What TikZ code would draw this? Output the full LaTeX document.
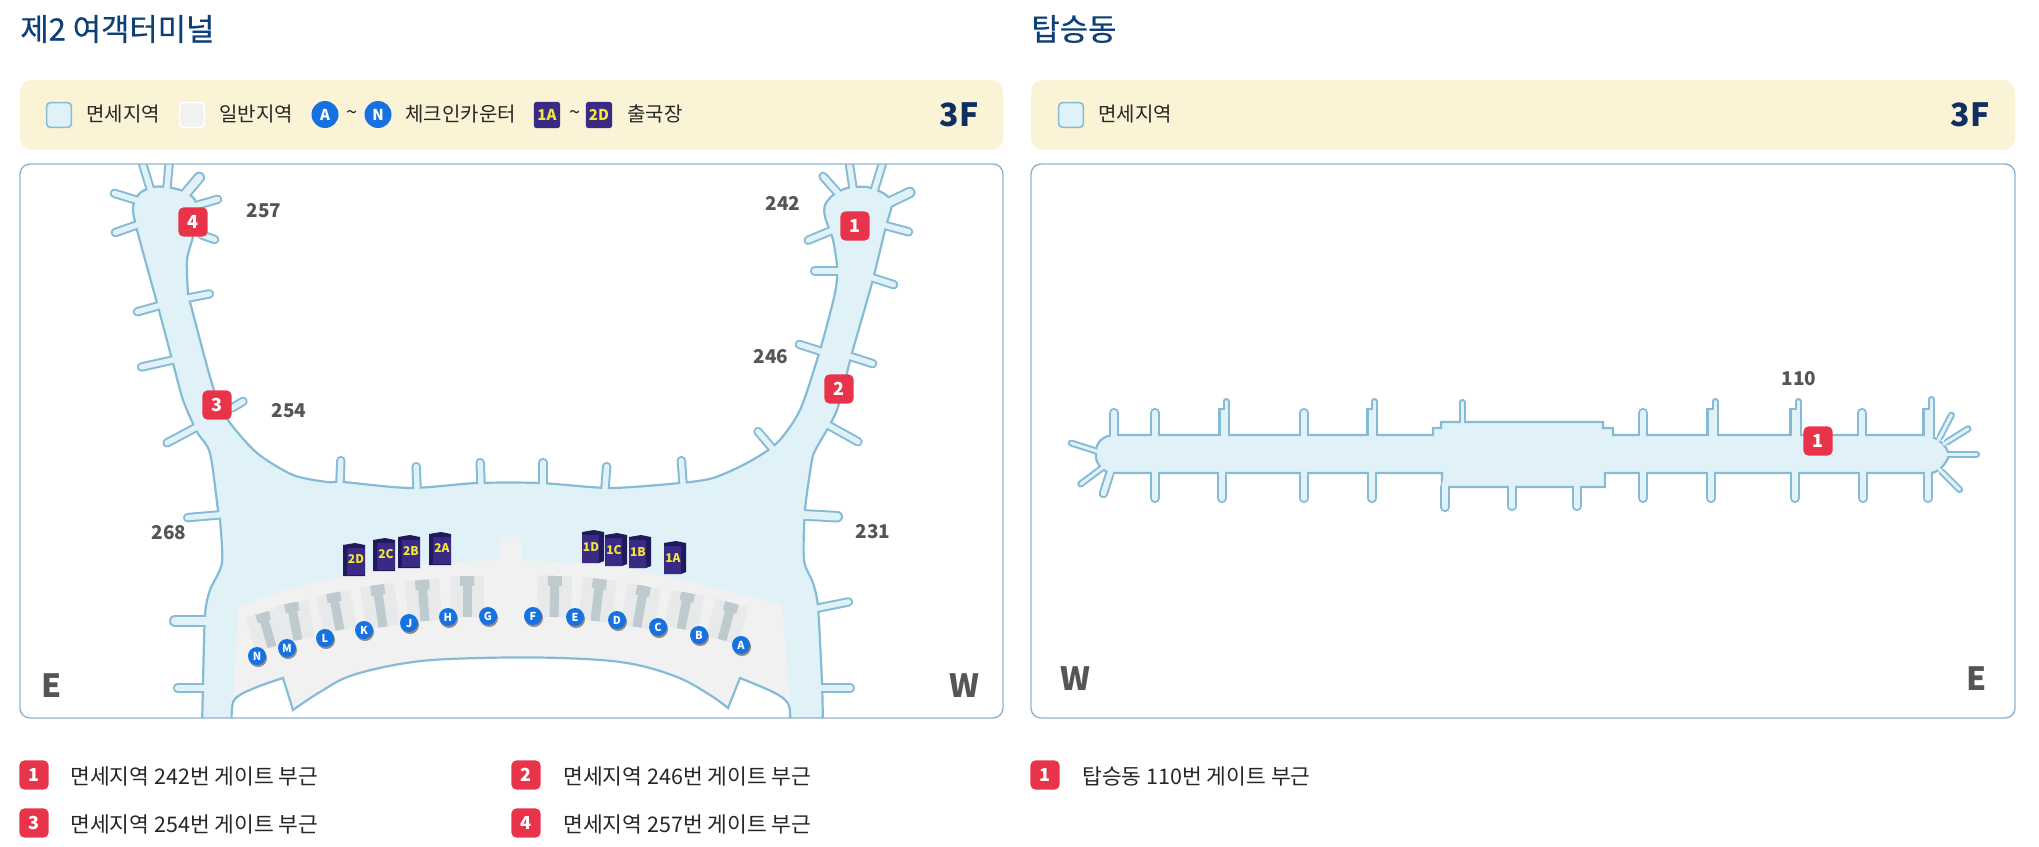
\documentclass[tikz,border=0pt]{standalone}
\usepackage{fontspec}
\setmainfont{Noto Sans CJK KR}
\usetikzlibrary{calc}
\definecolor{pale}{HTML}{E0F2F8}
\definecolor{wall}{HTML}{86BBD6}
\definecolor{frame}{HTML}{8FB3CF}
\definecolor{cream}{HTML}{FBF3D5}
\definecolor{land}{HTML}{F1F1F1}
\definecolor{band}{HTML}{E8E9EA}
\definecolor{desk}{HTML}{BFCACF}
\definecolor{navy}{HTML}{0E3F77}
\definecolor{dnavy}{HTML}{0E2F5F}
\definecolor{redb}{HTML}{E8344A}
\definecolor{blu}{HTML}{1572E0}
\definecolor{purp}{HTML}{3B2A85}
\definecolor{dpurp}{HTML}{1F1A5C}
\definecolor{yell}{HTML}{F0EA35}
\definecolor{gtxt}{HTML}{555555}
% gate stubs of the terminal, root then tip
\newcommand\gatesT{136/200/110/192, 150/188/140/155, 167/187/170/155, 198/205/222/198,
	202/235/219/241, 137/225/111/234, 188/298/214/293, 158/306/133/313, 173/360/137/368,
	232/408/247/399, 195/428/163/445, 340/482/341/456, 417/488/416/462, 481/483/480/458,
	218/515/183/518, 203/688/173/688, 543/483/543/458, 605/488/607/462, 683/483/681/456,
	772/448/755/428, 828/425/862/444, 852/357/877/365, 820/351/795/343, 873/278/898/286,
	837/271/810/271, 887/226/913/233, 828/232/804/242, 837/192/820/173, 853/188/848/155,
	875/188/885/155, 822/688/855/688, 818/608/853/601}
\newcommand\gatesW{205/621/169/621, 805/515/843/517, 890/202/915/190, 187/192/203/173}
% gate stubs of the concourse
\newcommand\gatesC{1114/435/1114/408, 1155/435/1155/408, 1304/435/1304/408, 1643/435/1643/408, 1862/435/1862/408,
	1155/473/1155/503, 1222/473/1222/503, 1304/473/1304/503, 1372/473/1372/503, 1643/473/1643/503,
	1711/473/1711/503, 1795/473/1795/503, 1863/473/1863/503, 1928/473/1928/503, 1577/487/1577/511,
	1512/487/1512/511, 1445/487/1445/512, 1110/473/1102/498}
\newcommand\gatesN{1226/435/1226/398, 1374/435/1374/398, 1715/435/1715/398, 1798/435/1798/398, 1931/435/1931/396,
	1462/425/1462/399, 1096/451/1068/442, 1102/468/1078/486, 1940/437/1953/412, 1947/442/1971/427,
	1950/454/1980/454, 1942/472/1962/492}
\newcommand\shoulders{1224, 1372, 1712, 1795, 1928}
\begin{document}
\begin{tikzpicture}[x=0.5pt,y=-0.5pt, font=\fontsize{10}{12}\selectfont,
	title/.style={font=\fontsize{15.4}{17}\selectfont\addfontfeature{FakeBold=0.5},text=navy,anchor=west,inner sep=0},
	legd/.style={text=black!85,anchor=west,inner sep=0},
	list/.style={legd,font=\fontsize{10.75}{12}\selectfont},
	flor/.style={font=\fontsize{16}{18}\bfseries\selectfont,text=dnavy,inner sep=0},
	comp/.style={font=\fontsize{16}{18}\bfseries\selectfont,text=gtxt,inner sep=0},
	gatn/.style={font=\fontsize{9.5}{12}\bfseries\selectfont,text=gtxt,inner sep=0},
	badg/.style={fill=redb,rounded corners=2.5pt,minimum size=14.6pt,inner sep=0,text=white,font=\fontsize{9}{10}\bfseries\selectfont},
	swat/.style={draw=wall,line width=0.8pt,fill=pale,rounded corners=2pt,minimum size=12.4pt,inner sep=0},
	cntr/.style={circle,fill=blu,minimum size=9pt,inner sep=0,text=white,font=\fontsize{5.5}{6}\bfseries\selectfont},
	cnbg/.style={circle,fill=black!45,minimum size=9pt,inner sep=0},
	bcnt/.style={circle,fill=blu,minimum size=13.5pt,inner sep=0,text=white,font=\fontsize{7.5}{9}\bfseries\selectfont},
	bdsk/.style={fill=purp,rounded corners=1.5pt,minimum size=13.2pt,inner sep=0,text=yell,font=\fontsize{7.5}{9}\bfseries\selectfont},
	dlab/.style={text=yell,inner sep=0,font=\fontsize{6}{7}\bfseries\selectfont},
	swal/.style={draw=wall,line width=4.7pt,line cap=round,shorten >=2.3pt},
	sflr/.style={draw=pale,line width=2.7pt,line cap=round,shorten >=2.3pt,shorten <=-2pt}]
	\useasboundingbox (0,0) rectangle (2039,846);
	% headings
	\node[title] (t1) at (20,29) {제2 여객터미널};
	\node[title] (t2) at (1031,29) {탑승동};
	\fill[cream,rounded corners=6pt] (20,80) rectangle (1003,150);
	\fill[cream,rounded corners=6pt] (1031,80) rectangle (2015,150);
	\node[swat] (s1) at (59,115) {};
	\node[legd] (l1) at (86,114) {면세지역};
	\node[swat,draw=white,fill=land] (s2) at (192,115) {};
	\node[legd] (l2) at (219,114) {일반지역};
	\node[cnbg] (bg) at (325.5,116.5) {};
	\node[bcnt] (ba) at (325,114.5) {A};
	\node[legd] (t3) at (346,115) {\textasciitilde};
	\node[bcnt] (bn) at (378,114.5) {N};
	\node[legd] (l3) at (405,114) {체크인카운터};
	\node[bdsk] (b1) at (547,115) {1A};
	\node[legd] (t4) at (569,115) {\textasciitilde};
	\node[bdsk] (b2) at (599,115) {2D};
	\node[legd] (l4) at (627,114) {출국장};
	\node[flor] (f1) at (959,115) {3F};
	\node[swat] (s3) at (1071,115) {};
	\node[legd] (l5) at (1098,114) {면세지역};
	\node[flor] (f2) at (1970,115) {3F};
	% terminal map
	\begin{scope}
	\clip[rounded corners=5pt] (20,164) rectangle (1003,718);
	\foreach \ax/\ay/\bx/\by in \gatesT {\draw[swal] (\ax,\ay) -- (\bx,\by);}
	\foreach \ax/\ay/\bx/\by in \gatesW {\draw[swal,line width=5.8pt,shorten >=2.9pt] (\ax,\ay) -- (\bx,\by);}
	\filldraw[draw=wall,line width=1.1pt,fill=pale] plot[smooth,tension=0.45] coordinates {(202,730) (203,683) (205,615) (210,590) (222,563) (220,520) (218,510) (210,453) (197,432) (183,400) (173,363) (157,303) (137,230) (133,207) (140,193) (153,187) (167,187) (183,191) (195,200) (196,222) (193,237) (187,260) (188,293) (190,302) (213,387) (228,420) (257,453) (293,475) (327,482) (343,482) (410,488) (477,483) (540,483) (610,488) (680,483) (713,478) (747,463) (777,443) (800,410) (820,350) (835,293) (837,267) (833,240) (825,217) (825,205) (833,195) (847,188) (867,187) (883,193) (892,203) (885,230) (872,283) (852,353) (837,410) (817,447) (812,460) (805,510) (804,560) (813,583) (818,607) (822,683) (823,730)} -- cycle;
	\foreach \ax/\ay/\bx/\by in \gatesT {\draw[sflr] (\ax,\ay) -- (\bx,\by);}
	\foreach \ax/\ay/\bx/\by in \gatesW {\draw[sflr,line width=3.8pt,shorten >=2.9pt] (\ax,\ay) -- (\bx,\by);}
	% landside hall
	\fill[white] (232,705) -- (240,650) -- (785,650) -- (790,705) -- (790,730) -- (232,730) -- cycle;
	\fill[land] plot[smooth,tension=0.6] coordinates {(238,607) (280,592) (347,575) (413,565) (500,560)} -- (500,537) -- (521,537) -- plot[smooth,tension=0.6] coordinates {(521,561) (560,562) (627,568) (693,583) (745,595) (782,605)} -- plot[smooth,tension=0.6] coordinates {(790,703) (773,692) (740,678)} -- plot[smooth,tension=0.6] coordinates {(728,708) (710,695) (677,677) (627,663) (560,658) (480,658) (413,662) (353,675) (320,692) (293,710)} -- plot[smooth,tension=0.6] coordinates {(283,678) (257,687) (237,697) (233,705)} -- cycle;
	\draw[wall,line width=1.1pt] plot[smooth,tension=0.6] coordinates {(232,730) (232,708) (237,697) (257,687) (283,678)} -- plot[smooth,tension=0.6] coordinates {(293,710) (320,692) (353,675) (413,662) (480,658) (560,658) (627,663) (677,677) (710,695) (728,708)} -- plot[smooth,tension=0.6] coordinates {(740,678) (773,692) (787,702) (790,713) (790,730)};
	\foreach \ax/\ay/\bx/\by in {262/613/272/647, 291/603/298/640, 333/593/340/630, 377/585/383/627, 422/580/425/621, 467/576/467/617, 555/576/554/617, 600/579/595/621, 644/586/637/627, 688/593/681/629, 732/603/722/640} {
		\draw[band,line width=17pt] (\ax,\ay) -- (\bx,\by);
		\draw[desk,line width=4.5pt] (\ax,\ay) -- (\bx,\by);
		\draw[desk,line width=7pt] (\ax,\ay) -- ($(\ax,\ay)!0.24!(\bx,\by)$);
	}
	\foreach \n/\cx/\cy in {N/257/656, M/287/648, L/325/638, K/364/630, J/409/623, H/448/617, G/488/616, F/533/616, E/575/617, D/617/620, C/658/627, B/699/635, A/741/645} {
		\node[cnbg] (q\n) at (\cx+1,\cy+2) {};
		\node[cntr] (c\n) at (\cx,\cy) {\n};
	}
	% departure gates
	\foreach \n/\lx/\ty/\lb in {a/343/543/2D, b/373/538/2C, c/398/535/2B, d/429/532/2A} {
		\fill[dpurp] (\lx,\ty+2) -- ++(12,-2) -- ++(10,2) -- ++(0,31) -- ++(-22,0) -- cycle;
		\fill[purp] (\lx+4,\ty+5) rectangle (\lx+22,\ty+32);
		\node[dlab] (d\n) at (\lx+13,\ty+16) {\lb};
	}
	\foreach \n/\lx/\ty/\lb in {e/582/530/1D, f/605/533/1C, g/629/535/1B, h/664/541/1A} {
		\fill[dpurp] (\lx,\ty+2) -- ++(12,-2) -- ++(10,2) -- ++(0,29) -- ++(-5,2) -- ++(-17,0) -- cycle;
		\fill[purp] (\lx,\ty+5) rectangle (\lx+17,\ty+33);
		\node[dlab] (d\n) at (\lx+9,\ty+17) {\lb};
	}
	\end{scope}
	\draw[frame,line width=0.7pt,rounded corners=5pt] (20,164) rectangle (1003,718);
	\node[gatn] (g1) at (264,211) {257};
	\node[gatn] (g2) at (289,411) {254};
	\node[gatn] (g3) at (169,533) {268};
	\node[gatn] (g4) at (783,203) {242};
	\node[gatn] (g5) at (771,357) {246};
	\node[gatn] (g6) at (873,532) {231};
	\node[comp] (e1) at (52,686) {E};
	\node[comp] (w1) at (964,686) {W};
	\node[badg] (m1) at (855,226) {1};
	\node[badg] (m2) at (839,389) {2};
	\node[badg] (m3) at (217,405) {3};
	\node[badg] (m4) at (193,222) {4};
	% concourse map
	\foreach \ax/\ay/\bx/\by in \gatesC {\draw[swal] (\ax,\ay) -- (\bx,\by);}
	\foreach \ax/\ay/\bx/\by in \gatesN {\draw[swal,line width=3.5pt,shorten >=1.7pt] (\ax,\ay) -- (\bx,\by);}
	\foreach \sx in \shoulders {\draw[wall,line width=5.6pt] (\sx,435) -- (\sx,408);}
	\filldraw[draw=wall,line width=1.1pt,fill=pale] (1113,435) -- (1433,435) -- (1433,428) -- (1441,428) -- (1441,422) -- (1603,422) -- (1603,428) -- (1613,428) -- (1613,435) -- (1923,435) -- (1933,437) .. controls (1940,440) and (1946,446) .. (1948,452) -- (1948,458) .. controls (1945,465) and (1938,473) .. (1930,473) -- (1605,473) -- (1605,487) -- (1442,487) -- (1442,473) -- (1113,473) .. controls (1104,473) and (1097,465) .. (1096,458) -- (1096,450) .. controls (1097,442) and (1103,436) .. cycle;
	\foreach \ax/\ay/\bx/\by in \gatesC {\draw[sflr] (\ax,\ay) -- (\bx,\by);}
	\foreach \ax/\ay/\bx/\by in \gatesN {\draw[sflr,line width=1.5pt,shorten >=1.7pt] (\ax,\ay) -- (\bx,\by);}
	\foreach \sx in \shoulders {\draw[pale,line width=3.5pt] (\sx,438) -- (\sx,410);}
	\draw[frame,line width=0.7pt,rounded corners=5pt] (1031,164) rectangle (2015,718);
	\node[gatn] (g7) at (1799,379) {110};
	\node[comp] (w2) at (1075,679) {W};
	\node[comp] (e2) at (1977,679) {E};
	\node[badg] (m5) at (1818,441) {1};
	% list below the maps
	\node[badg] (k1) at (34,775) {1};
	\node[list] (n1) at (70,776) {면세지역 242번 게이트 부근};
	\node[badg] (k2) at (526,775) {2};
	\node[list] (n2) at (563,776) {면세지역 246번 게이트 부근};
	\node[badg] (k3) at (34,823) {3};
	\node[list] (n3) at (70,824) {면세지역 254번 게이트 부근};
	\node[badg] (k4) at (526,823) {4};
	\node[list] (n4) at (563,824) {면세지역 257번 게이트 부근};
	\node[badg] (k5) at (1045,775) {1};
	\node[list] (n5) at (1082,776) {탑승동 110번 게이트 부근};
\end{tikzpicture}
\end{document}
